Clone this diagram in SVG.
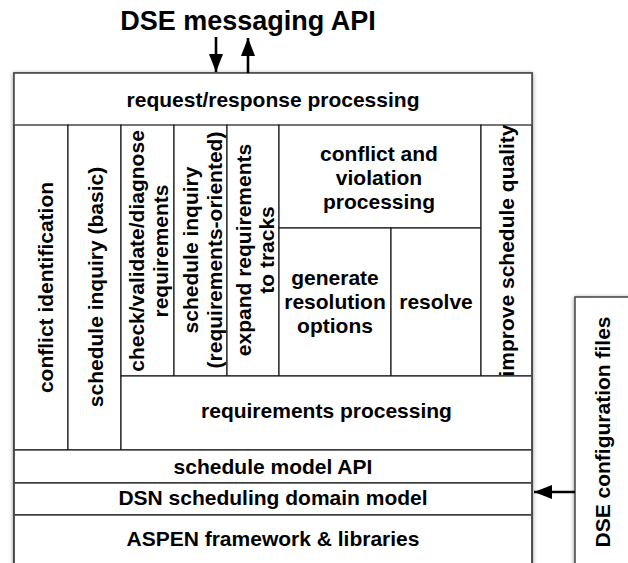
<svg xmlns="http://www.w3.org/2000/svg" width="628" height="563" viewBox="0 0 628 563">
<style>
  .cell { fill: #fff; stroke: #1a1a1a; stroke-width: 1.2; }
  .frame { fill: #fff; stroke: #4d4d4d; stroke-width: 1.6; }
  .t { font-family: "Liberation Sans", Arial, Helvetica, sans-serif; font-weight: bold; font-size: 21px; fill: #000; text-anchor: middle; }
  .title { font-size: 27px; }
  .conn { stroke: #000; stroke-width: 2.6; fill: none; }
</style>
<defs>
  <filter id="shadow" x="-10%" y="-10%" width="120%" height="120%">
    <feDropShadow dx="0" dy="1" stdDeviation="2" flood-color="#000" flood-opacity="0.45"/>
  </filter>
  <marker id="arrow" markerUnits="userSpaceOnUse" markerWidth="20" markerHeight="14" refX="18" refY="7" orient="auto">
    <path d="M0,0 L18,7 L0,14 Z" fill="#000"/>
  </marker>
</defs>
<rect width="628" height="563" fill="#fff"/>

<g id="title">
  <text class="t title" x="248" y="29.5">DSE messaging API</text>
</g>

<rect class="frame" x="14" y="73" width="518" height="500" filter="url(#shadow)"/>

<g id="request-response-processing">
  <rect class="cell" x="14" y="73" width="518" height="52" style="stroke:none"/>
  <text class="t" x="273" y="107">request/response processing</text>
</g>
<g id="conflict-identification">
  <rect class="cell" x="14" y="125" width="54" height="325"/>
  <text class="t" transform="translate(52.5,287.5) rotate(-90)">conflict identification</text>
</g>
<g id="schedule-inquiry-basic">
  <rect class="cell" x="68" y="125" width="53" height="325"/>
  <text class="t" transform="translate(102.5,287) rotate(-90)">schedule inquiry (basic)</text>
</g>
<g id="check-validate">
  <rect class="cell" x="121" y="125" width="53" height="251"/>
  <text class="t" transform="translate(143.5,251) rotate(-90)"><tspan x="0" y="0">check/validate/diagnose</tspan><tspan x="0" y="24">requirements</tspan></text>
</g>
<g id="schedule-inquiry-req">
  <rect class="cell" x="174" y="125" width="53" height="251"/>
  <text class="t" transform="translate(198,250) rotate(-90)"><tspan x="0" y="0">schedule inquiry</tspan><tspan x="0" y="24">(requirements-oriented)</tspan></text>
</g>
<g id="expand-requirements">
  <rect class="cell" x="227" y="125" width="52" height="251"/>
  <text class="t" transform="translate(250.5,250) rotate(-90)"><tspan x="0" y="0">expand requirements</tspan><tspan x="0" y="23.5">to tracks</tspan></text>
</g>
<g id="conflict-violation-processing">
  <rect class="cell" x="279" y="125" width="202" height="103"/>
  <text class="t" x="379"><tspan x="379" y="161">conflict and</tspan><tspan x="379" y="185">violation</tspan><tspan x="379" y="209">processing</tspan></text>
</g>
<g id="generate-resolution-options">
  <rect class="cell" x="279" y="228" width="112" height="148"/>
  <text class="t"><tspan x="335" y="285">generate</tspan><tspan x="335" y="309">resolution</tspan><tspan x="335" y="333">options</tspan></text>
</g>
<g id="resolve">
  <rect class="cell" x="391" y="228" width="90" height="148"/>
  <text class="t" x="436" y="309">resolve</text>
</g>
<g id="improve-schedule-quality">
  <rect class="cell" x="481" y="125" width="51" height="251"/>
  <text class="t" transform="translate(513.5,250.5) rotate(-90)">improve schedule quality</text>
</g>
<g id="requirements-processing">
  <rect class="cell" x="121" y="376" width="411" height="74"/>
  <text class="t" x="326.5" y="418">requirements processing</text>
</g>
<g id="schedule-model-api">
  <rect class="cell" x="14" y="450" width="518" height="33"/>
  <text class="t" x="273" y="473.5">schedule model API</text>
</g>
<g id="dsn-scheduling-domain-model">
  <rect class="cell" x="14" y="483" width="518" height="32"/>
  <text class="t" x="273" y="505">DSN scheduling domain model</text>
</g>
<g id="aspen-framework">
  <rect class="cell" x="14" y="515" width="518" height="60"/>
  <text class="t" x="273" y="546">ASPEN framework &amp; libraries</text>
</g>
<rect x="14" y="73" width="518" height="500" fill="none" stroke="#4d4d4d" stroke-width="1.6"/>

<g id="dse-configuration-files">
  <rect class="frame" x="575" y="297" width="70" height="280" filter="url(#shadow)"/>
  <text class="t" transform="translate(610,432) rotate(-90)">DSE configuration files</text>
</g>

<g id="connectors">
  <line class="conn" x1="216" y1="37" x2="216" y2="72" marker-end="url(#arrow)"/>
  <line class="conn" x1="248" y1="73" x2="248" y2="38" marker-end="url(#arrow)"/>
  <line class="conn" x1="575" y1="492" x2="534" y2="492" marker-end="url(#arrow)"/>
</g>
</svg>
